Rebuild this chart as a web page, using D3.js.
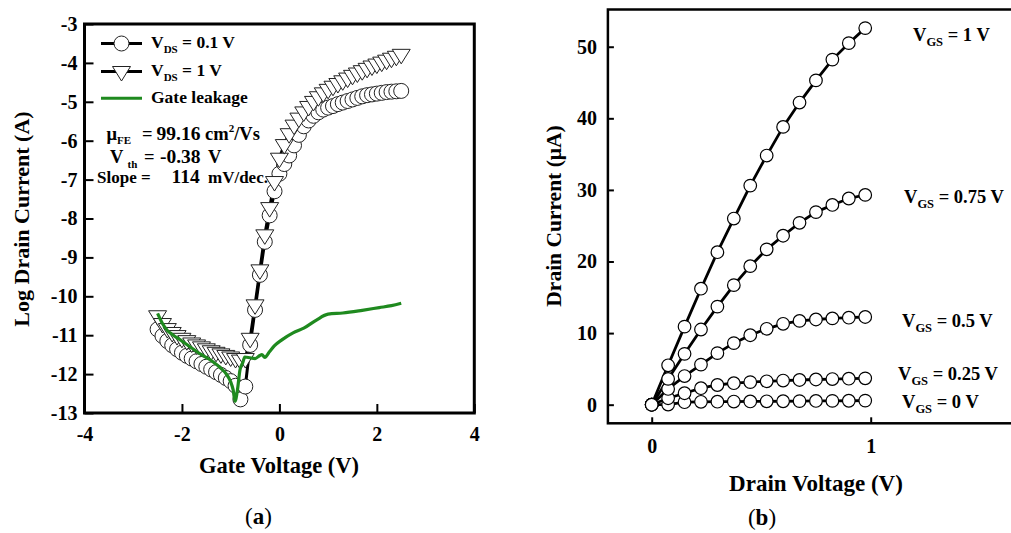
<!DOCTYPE html>
<html>
<head>
<meta charset="utf-8">
<script src="https://cdn.jsdelivr.net/npm/d3@7"></script>
<style>
  body { margin: 0; background: #fff; }
  svg { display: block; font-family: "Liberation Serif", "Times New Roman", serif; font-weight: bold; }
</style>
</head>
<body>
<div id="chart"></div>
<script>
// DATA (a) transfer curves, log10 of drain current
const gateV = [-2.5, -2.4, -2.3, -2.2, -2.1, -2.0, -1.9, -1.8, -1.7, -1.6, -1.5, -1.4, -1.3,
  -1.2, -1.1, -1.0, -0.9, -0.8, -0.7, -0.6, -0.5, -0.4, -0.3, -0.2, -0.1,
  0.0, 0.1, 0.2, 0.3, 0.4, 0.5, 0.6, 0.7, 0.8, 0.9, 1.0, 1.1, 1.2, 1.3,
  1.4, 1.5, 1.6, 1.7, 1.8, 1.9, 2.0, 2.1, 2.2, 2.3, 2.4, 2.5];
const logIdVds01 = [-10.85, -11.02, -11.15, -11.26, -11.36, -11.45, -11.53, -11.6, -11.67, -11.74, -11.81, -11.88, -11.95,
  -12.02, -12.1, -12.18, -12.3, -12.65, -12.32, -11.25, -10.35, -9.45, -8.6, -7.92, -7.3,
  -6.85, -6.6, -6.38, -6.12, -5.85, -5.63, -5.48, -5.36, -5.27, -5.2, -5.15, -5.11, -5.06, -5.02,
  -4.98, -4.94, -4.9, -4.86, -4.83, -4.81, -4.79, -4.77, -4.75, -4.74, -4.73, -4.72];
const logIdVds1 = [-10.5, -10.7, -10.83, -10.93, -11.01, -11.08, -11.14, -11.2, -11.25, -11.3, -11.35, -11.4, -11.44,
  -11.48, -11.52, -11.56, -11.6, -11.64, -11.6, -11.08, -10.22, -9.32, -8.42, -7.72, -7.05,
  -6.45, -6.1, -5.82, -5.6, -5.42, -5.26, -5.12, -4.99, -4.87, -4.77, -4.68, -4.6, -4.53, -4.46,
  -4.39, -4.32, -4.26, -4.2, -4.14, -4.08, -4.03, -3.98, -3.93, -3.88, -3.83, -3.78];
const leakV = [-2.5, -2.4, -2.3, -2.2, -2.0, -1.8, -1.6, -1.4, -1.2, -1.1, -1.0, -0.95, -0.91, -0.86, -0.81,
  -0.75, -0.71, -0.6, -0.5, -0.4, -0.36, -0.3, -0.2, -0.1, 0.05, 0.28, 0.5, 0.76, 1.0, 1.3, 1.7, 2.05, 2.3, 2.5];
const leakLog = [-10.44, -10.7, -10.88, -10.98, -11.15, -11.33, -11.5, -11.65, -11.85, -11.98, -12.2, -12.4, -12.7, -12.4, -11.9,
  -11.7, -11.56, -11.58, -11.6, -11.52, -11.5, -11.57, -11.42, -11.27, -11.12, -10.94, -10.82, -10.61, -10.46, -10.43, -10.36, -10.29, -10.24, -10.18];
const xTicksA = [-4, -2, 0, 2, 4];
const yTicksA = [-3, -4, -5, -6, -7, -8, -9, -10, -11, -12, -13];

// DATA (b) output curves, drain current in uA
const drainV = [0, 0.075, 0.15, 0.225, 0.3, 0.375, 0.45, 0.525, 0.6, 0.675, 0.75, 0.825, 0.9, 0.975];
const idVgs1 = [0, 5.5, 10.9, 16.2, 21.3, 26.0, 30.6, 34.8, 38.8, 42.2, 45.3, 48.2, 50.5, 52.6];
const idVgs075 = [0, 3.6, 7.1, 10.5, 13.7, 16.7, 19.35, 21.7, 23.6, 25.4, 26.9, 27.9, 28.8, 29.3];
const idVgs05 = [0, 2.2, 4.0, 5.6, 7.2, 8.6, 9.7, 10.6, 11.3, 11.7, 11.9, 12.05, 12.15, 12.25];
const idVgs025 = [0, 0.9, 1.6, 2.3, 2.75, 3.0, 3.15, 3.27, 3.37, 3.45, 3.52, 3.58, 3.63, 3.68];
const idVgs0 = [0, 0.02, 0.35, 0.4, 0.42, 0.44, 0.45, 0.47, 0.48, 0.5, 0.52, 0.53, 0.55, 0.57];
const vgsNames = ["1", "0.75", "0.5", "0.25", "0"];
const xTicksB = [0, 1];
const yTicksB = [0, 10, 20, 30, 40, 50];

const GREEN = '#1f8a1f';

const svg = d3.select('#chart').append('svg')
  .attr('width', 1011)
  .attr('height', 533);

function styleAxis(g, size) {
  g.select('.domain').remove();
  g.selectAll('line').attr('stroke', '#000').attr('stroke-width', 2);
  g.selectAll('text')
    .attr('font-family', '"Liberation Serif", "Times New Roman", serif')
    .attr('font-weight', 'bold')
    .attr('font-size', size)
    .attr('fill', '#000');
}

// ---------- panel (a) ----------
const xa = d3.scaleLinear().domain([-4, 4]).range([84.5, 474.3]);
const ya = d3.scaleLinear().domain([-13, -3]).range([413, 24]);

const pa = svg.append('g').attr('class', 'panel-a');

pa.append('g')
  .attr('transform', `translate(0,${ya(-13)})`)
  .call(d3.axisBottom(xa).tickValues(xTicksA).tickSize(-9).tickPadding(14).tickFormat(d => String(d)))
  .call(g => styleAxis(g, 20));

pa.append('g')
  .attr('transform', `translate(${xa(-4)},0)`)
  .call(d3.axisLeft(ya).tickValues(yTicksA).tickSize(-9).tickPadding(7).tickFormat(d => String(d)))
  .call(g => styleAxis(g, 20));

pa.append('rect')
  .attr('x', xa(-4)).attr('y', ya(-3))
  .attr('width', xa(4) - xa(-4)).attr('height', ya(-13) - ya(-3))
  .attr('fill', 'none').attr('stroke', '#000').attr('stroke-width', 3);

const lineA = d3.line().x(d => xa(d[0])).y(d => ya(d[1]));
const ptsLow = gateV.map((v, i) => [v, logIdVds01[i]]);
const ptsHigh = gateV.map((v, i) => [v, logIdVds1[i]]);
const ptsLeak = leakV.map((v, i) => [v, leakLog[i]]);

pa.append('path').datum(ptsLow).attr('d', lineA)
  .attr('fill', 'none').attr('stroke', '#000').attr('stroke-width', 3);
pa.append('path').datum(ptsHigh).attr('d', lineA)
  .attr('fill', 'none').attr('stroke', '#000').attr('stroke-width', 3);

const triPath = 'M-9,-5L9,-5L0,9.5Z';

pa.append('g').selectAll('circle').data(ptsLow).enter().append('circle')
  .attr('cx', d => xa(d[0])).attr('cy', d => ya(d[1])).attr('r', 7.5)
  .attr('fill', '#fff').attr('stroke', '#222').attr('stroke-width', 1);

pa.append('g').selectAll('path').data(ptsHigh).enter().append('path')
  .attr('transform', d => `translate(${xa(d[0])},${ya(d[1])})`)
  .attr('d', triPath)
  .attr('fill', '#fff').attr('stroke', '#222').attr('stroke-width', 1);

pa.append('path').datum(ptsLeak).attr('d', lineA.curve(d3.curveMonotoneX))
  .attr('fill', 'none').attr('stroke', GREEN).attr('stroke-width', 3.2)
  .attr('stroke-linejoin', 'round');

// legend
const leg = pa.append('g');
const legRows = [
  { y: 43.5, type: 'circle', txt: 'V', sub: 'DS', rest: ' = 0.1 V' },
  { y: 71.5, type: 'tri', txt: 'V', sub: 'DS', rest: ' = 1 V' },
  { y: 98.3, type: 'green', txt: 'Gate leakage' }
];
legRows.forEach(r => {
  leg.append('line').attr('x1', 101).attr('x2', 142).attr('y1', r.y).attr('y2', r.y)
    .attr('stroke', r.type === 'green' ? GREEN : '#000').attr('stroke-width', 3);
  if (r.type === 'circle') {
    leg.append('circle').attr('cx', 121.5).attr('cy', r.y).attr('r', 7.5)
      .attr('fill', '#fff').attr('stroke', '#222');
  } else if (r.type === 'tri') {
    leg.append('path').attr('transform', `translate(121.5,${r.y})`).attr('d', triPath)
      .attr('fill', '#fff').attr('stroke', '#222');
  }
  const t = leg.append('text').attr('x', 151).attr('y', r.y + 4.5).attr('font-size', 17.5);
  t.append('tspan').text(r.txt);
  if (r.sub) {
    t.append('tspan').attr('dy', 5).attr('font-size', 11).text(r.sub);
    t.append('tspan').attr('dy', -5).text(r.rest);
  }
});

// annotation
const ann = pa.append('g').attr('fill', '#000');
const t1 = ann.append('text').attr('x', 106.5).attr('y', 140).attr('font-size', 18.5);
t1.append('tspan').text('μ');
t1.append('tspan').attr('dy', 4).attr('font-size', 11).text('FE');
t1.append('tspan').attr('dy', -4).attr('x', 142).text('=');
t1.append('tspan').attr('x', 156.5).attr('font-size', 19.5).text('99.16');
t1.append('tspan').attr('x', 205).text('cm');
t1.append('tspan').attr('dy', -8).attr('font-size', 11).text('2');
t1.append('tspan').attr('dy', 8).text('/Vs');

const t2 = ann.append('text').attr('x', 110).attr('y', 163.3).attr('font-size', 18.5);
t2.append('tspan').text('V');
t2.append('tspan').attr('dy', 5).attr('x', 127.5).attr('font-size', 11).text('th');
t2.append('tspan').attr('dy', -5).attr('x', 144).text('=');
t2.append('tspan').attr('x', 160).attr('font-size', 19.5).text('-0.38');
t2.append('tspan').attr('x', 208).text('V');

const t3 = ann.append('text').attr('x', 97).attr('y', 183.3).attr('font-size', 17);
t3.append('tspan').text('Slope =');
t3.append('tspan').attr('x', 171.5).attr('font-size', 19.5).text('114');
t3.append('tspan').attr('x', 208).text('mV/dec.');

// titles
pa.append('text')
  .attr('transform', 'translate(29,219) rotate(-90)')
  .attr('text-anchor', 'middle').attr('font-size', 22)
  .text('Log Drain Current (A)');
pa.append('text')
  .attr('x', 279).attr('y', 473)
  .attr('text-anchor', 'middle').attr('font-size', 22.5)
  .text('Gate Voltage (V)');
const la = pa.append('text').attr('x', 258.5).attr('y', 524)
  .attr('text-anchor', 'middle').attr('font-size', 23).attr('font-weight', 'normal');
la.append('tspan').text('(');
la.append('tspan').attr('font-weight', 'bold').text('a');
la.append('tspan').text(')');

// ---------- panel (b) ----------
const xb = d3.scaleLinear().domain([-0.2, 1.8]).range([607.9, 1045.9]);
const yb = d3.scaleLinear().domain([-2.6, 55.2]).range([423.3, 9.5]);

const pb = svg.append('g').attr('class', 'panel-b');

pb.append('g')
  .attr('transform', `translate(0,${yb(-2.6)})`)
  .call(d3.axisBottom(xb).tickValues(xTicksB).tickSize(-6).tickPadding(16).tickFormat(d => String(d)))
  .call(g => styleAxis(g, 20));

pb.append('g')
  .attr('transform', `translate(${xb(-0.2)},0)`)
  .call(d3.axisLeft(yb).tickValues(yTicksB).tickSize(-6).tickPadding(11).tickFormat(d => String(d)))
  .call(g => styleAxis(g, 20));

pb.append('rect')
  .attr('x', xb(-0.2)).attr('y', yb(55.2))
  .attr('width', xb(1.8) - xb(-0.2)).attr('height', yb(-2.6) - yb(55.2))
  .attr('fill', 'none').attr('stroke', '#000').attr('stroke-width', 2.5);

const seriesB = [idVgs0, idVgs025, idVgs05, idVgs075, idVgs1];
const lineB = d3.line().x(d => xb(d[0])).y(d => yb(d[1]));

seriesB.forEach(vals => {
  const pts = drainV.map((v, i) => [v, vals[i]]);
  pb.append('path').datum(pts).attr('d', lineB)
    .attr('fill', 'none').attr('stroke', '#000').attr('stroke-width', 2.8);
});
seriesB.forEach(vals => {
  const pts = drainV.map((v, i) => [v, vals[i]]);
  pb.append('g').selectAll('circle').data(pts).enter().append('circle')
    .attr('cx', d => xb(d[0])).attr('cy', d => yb(d[1])).attr('r', 6.3)
    .attr('fill', '#fff').attr('stroke', '#000').attr('stroke-width', 1.2);
});

// curve labels
const labelPos = [
  { x: 913, y: 41 },
  { x: 904, y: 203 },
  { x: 902, y: 327 },
  { x: 898, y: 380 },
  { x: 902, y: 408 }
];
vgsNames.forEach((n, i) => {
  const t = pb.append('text').attr('x', labelPos[i].x).attr('y', labelPos[i].y).attr('font-size', 18.5);
  t.append('tspan').text('V');
  t.append('tspan').attr('dy', 5).attr('font-size', 12.5).text('GS');
  t.append('tspan').attr('dy', -5).text(` = ${n} V`);
});

pb.append('text')
  .attr('transform', 'translate(561,216) rotate(-90)')
  .attr('text-anchor', 'middle').attr('font-size', 21.5)
  .text('Drain Current (μA)');
pb.append('text')
  .attr('x', 816).attr('y', 491)
  .attr('text-anchor', 'middle').attr('font-size', 23)
  .text('Drain Voltage (V)');
const lb = pb.append('text').attr('x', 762).attr('y', 525)
  .attr('text-anchor', 'middle').attr('font-size', 23).attr('font-weight', 'normal');
lb.append('tspan').text('(');
lb.append('tspan').attr('font-weight', 'bold').text('b');
lb.append('tspan').text(')');
</script>
</body>
</html>
